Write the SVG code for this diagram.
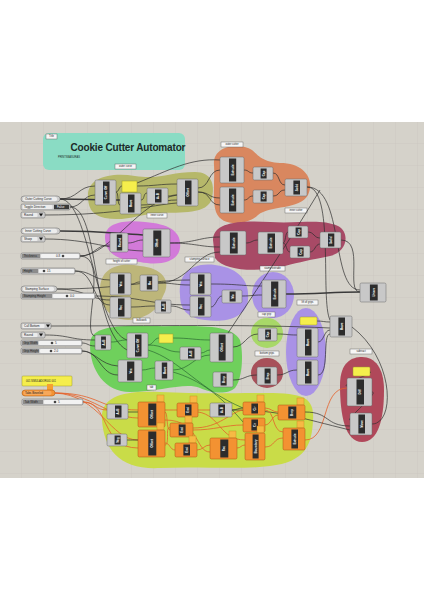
<svg xmlns="http://www.w3.org/2000/svg" width="424" height="600" viewBox="0 0 424 600">
<style>
text{font-family:"Liberation Sans",Arial,sans-serif}
.cp{fill:#c8c8c8;stroke:#6a6a6a;stroke-width:0.5}
.op{fill:#f39232;stroke:#a85510;stroke-width:0.5}
.co{fill:#2c2c2c}
.cl{font-size:3px;fill:#ffffff;font-weight:bold;text-anchor:middle;dominant-baseline:central}
.fl{fill:#f7b944;stroke:#c4871c;stroke-width:0.4}
.pn{fill:#f5ee4c;stroke:#9c9a2c;stroke-width:0.5}
.tag{fill:#f6f6f6;stroke:#555;stroke-width:0.4}
.tt{font-size:2.6px;fill:#222;text-anchor:middle;dominant-baseline:central}
.w{fill:none;stroke:#2e2e2e;stroke-width:0.7}
.wt{fill:none;stroke:#3a3a3a;stroke-width:1.6}
.wg{fill:none;stroke:#2d6a33;stroke-width:0.7}
.wo{fill:none;stroke:#e4612a;stroke-width:0.8}
.in{fill:#cdcdcd;stroke:#666;stroke-width:0.5}
.ib{fill:#ececec}
.it{font-size:3px;fill:#222;dominant-baseline:central}
.sl{fill:#f2f2f2}
.sb{fill:#8c8c8c}
</style>
<defs>
<pattern id="grid" x="0" y="122" width="22" height="22" patternUnits="userSpaceOnUse">
<rect width="22" height="22" fill="#d5d2ca"/>
<path d="M22,0 V22 M0,22 H22" fill="none" stroke="#c6c3ba" stroke-width="0.6"/>
</pattern>
</defs>
<rect width="424" height="600" fill="#ffffff"/>
<rect x="0" y="122" width="424" height="356" fill="url(#grid)"/>

<!-- groups -->
<g id="groups">
<path id="g-outer-curve" d="M88,195 C88,178 110,172 135,176 C160,180 170,172 195,172 C212,172 215,185 212,198 C208,215 180,212 160,213 C140,214 125,222 105,218 C90,215 88,205 88,195 Z" fill="#b6b86a"/>
<path id="g-outer-cutter" d="M214,165 C212,145 240,142 252,150 C258,155 262,162 280,163 C305,163 315,180 308,195 C300,210 270,205 258,215 C248,225 222,228 216,212 C212,200 215,180 214,165 Z" fill="#d9875f"/>
<path id="g-inner-curve" d="M105,238 C105,222 125,220 145,222 C170,224 182,232 180,248 C178,262 160,266 140,262 C125,260 106,258 105,238 Z" fill="#d27ad9"/>
<path id="g-inner-cutter" d="M213,240 C213,222 240,220 270,222 C300,224 320,218 338,226 C350,232 348,252 330,256 C310,260 300,262 285,266 C260,272 225,272 215,258 Z" fill="#a84a66"/>
<path id="g-height" d="M100,290 C100,268 118,262 140,266 C162,268 170,280 165,292 C160,302 158,312 140,318 C118,325 100,312 100,290 Z" fill="#bdb67a"/>
<path id="g-stamping" d="M180,295 C178,275 190,262 215,265 C240,268 250,282 248,300 C246,318 225,323 205,320 C188,318 180,310 180,295 Z" fill="#a992e6"/>
<ellipse id="g-stamp-extrude" cx="273" cy="295" rx="21" ry="23" fill="#a992e6"/>
<path id="g-bulkwork" d="M90,345 C90,328 110,325 150,326 C190,327 230,322 240,340 C244,355 242,380 235,388 C228,395 210,393 200,388 C185,382 160,392 130,392 C105,392 90,370 90,345 Z" fill="#6fd05c"/>
<ellipse id="g-cap-grip" cx="267" cy="333" rx="16" ry="15" fill="#a8d868"/>
<ellipse id="g-bottom" cx="267" cy="373" rx="16" ry="15" fill="#a8505a"/>
<ellipse id="g-lift" cx="306" cy="352" rx="20" ry="44" fill="#a992e6"/>
<path id="g-subtract" d="M340,385 C340,362 352,357 362,357 C375,357 384,368 384,390 C384,420 378,442 362,442 C345,442 340,415 340,385 Z" fill="#b0485a"/>
<path id="g-tab" d="M102,420 C100,398 120,390 160,392 C200,394 230,393 260,393 C300,393 315,395 313,420 C312,445 305,462 270,466 C240,470 200,466 160,468 C120,470 104,450 102,420 Z" fill="#c9dc48"/>
</g>

<!-- title -->
<g id="n-title">
<rect x="43" y="133" width="142" height="37" rx="6" fill="#8adcc4"/>
<text x="128" y="151" font-size="10" font-weight="bold" fill="#1c2a28" text-anchor="middle" textLength="115">Cookie Cutter Automator</text>
<text x="58" y="157.5" font-size="2.6" fill="#1c2a28">PRINTSBASURAS</text>
</g>

<!-- group labels -->
<g id="labels">
<rect class="tag" x="46" y="134" width="11" height="5"/><text class="tt" x="51.5" y="136.5">Title</text>
<rect class="tag" x="115" y="164" width="21" height="5"/><text class="tt" x="125.5" y="166.5">outer curve</text>
<rect class="tag" x="221" y="142" width="22" height="5"/><text class="tt" x="232" y="144.5">outer cutter</text>
<rect class="tag" x="147" y="213" width="20" height="5"/><text class="tt" x="157" y="215.5">inner curve</text>
<rect class="tag" x="285" y="208" width="22" height="5"/><text class="tt" x="296" y="210.5">inner cutter</text>
<rect class="tag" x="106" y="259" width="31" height="5"/><text class="tt" x="121.5" y="261.5">height of cutter</text>
<rect class="tag" x="185" y="257" width="29" height="5"/><text class="tt" x="199.5" y="259.5">stamping surface</text>
<rect class="tag" x="260" y="266" width="25" height="5"/><text class="tt" x="272.5" y="268.5">stamp extrude</text>
<rect class="tag" x="297" y="300" width="21" height="5"/><text class="tt" x="307.5" y="302.5">lift of grips</text>
<rect class="tag" x="258" y="312" width="17" height="5"/><text class="tt" x="266.5" y="314.5">cap grip</text>
<rect class="tag" x="133" y="318" width="17" height="5"/><text class="tt" x="141.5" y="320.5">bulkwork</text>
<rect class="tag" x="255" y="351" width="24" height="5"/><text class="tt" x="267" y="353.5">bottom grips</text>
<rect class="tag" x="350" y="349" width="22" height="5"/><text class="tt" x="361" y="351.5">subtract</text>
<rect class="tag" x="147" y="385" width="9" height="5"/><text class="tt" x="151.5" y="387.5">tab</text>
</g>

<!-- connectors -->
<g id="connectors">
<path class="wt" d="M60,199 C90,199 90,200 120,200"/>
<path class="w" d="M60,199 C78,199 78,186 95,186"/>
<path class="w" d="M70,207 C82,207 83,195 95,195"/>
<path class="w" d="M45,215 C120,215 150,205 177,203"/>
<path class="w" d="M60,199 C90,199 95,330 127,340"/>
<path class="w" d="M70,207 C100,207 90,330 127,350"/>
<path class="wt" d="M60,231 C100,231 110,233 143,235"/>
<path class="w" d="M45,239 C90,239 110,250 143,251"/>
<path class="w" d="M80,256 C95,256 95,245 110,245"/>
<path class="w" d="M80,256 C110,256 140,200 177,195"/>
<path class="w" d="M80,256 C110,256 80,335 95,336"/>
<path class="w" d="M75,271 C92,271 92,280 110,280"/>
<path class="w" d="M75,271 C95,271 92,305 110,305"/>
<path class="w" d="M57,289 C85,289 90,300 110,300"/>
<path class="w" d="M57,289 C120,289 150,280 190,280"/>
<path class="w" d="M95,296 C140,296 150,305 190,305"/>
<path class="w" d="M51,326 C150,326 250,324 330,328"/>
<path class="w" d="M45,335 C70,335 70,340 95,340"/>
<path class="w" d="M82,343 C88,343 88,346 95,346"/>
<path class="w" d="M82,351 C100,351 100,375 118,375"/>
<path class="w" d="M82,351 C95,351 100,365 118,366"/>
<path class="wo" d="M83,402 C95,402 95,410 107,410"/>
<path class="wo" d="M55,393 C100,393 100,410 138,410"/>
<path class="wo" d="M55,393 C100,395 110,440 138,440"/>
<path class="wo" d="M55,393 C90,393 110,418 138,418"/>
<path class="wo" d="M83,402 C110,402 100,448 138,448"/>
<path class="w" d="M116,192 C119,192 119,186 122,186"/>
<path class="w" d="M116,192 C119,192 117,205 120,205"/>
<path class="w" d="M137,186 C155,186 160,184 177,184"/>
<path class="w" d="M141,200 C145,200 143,193 147,193"/>
<path class="w" d="M168,196 C172,196 172,195 177,195"/>
<path class="w" d="M141,205 C160,205 160,200 177,200"/>
<path class="w" d="M137,183 C170,170 190,158 220,160"/>
<path class="w" d="M198,188 C210,188 208,170 220,170"/>
<path class="w" d="M198,192 C210,192 208,198 220,198"/>
<path class="w" d="M198,192 C212,192 208,205 220,205"/>
<path class="w" d="M244,170 C249,170 248,173 253,173"/>
<path class="w" d="M244,200 C249,200 248,196 253,196"/>
<path class="w" d="M273,173 C280,173 278,185 285,185"/>
<path class="w" d="M273,196 C280,196 278,190 285,190"/>
<path class="w" d="M307,187 C345,187 330,290 360,290"/>
<path class="w" d="M307,187 C335,187 320,300 330,320"/>
<path class="w" d="M128,243 C135,243 136,240 143,240"/>
<path class="w" d="M170,243 C195,243 200,237 220,237"/>
<path class="w" d="M170,243 C195,243 200,247 220,247"/>
<path class="w" d="M246,243 C252,243 252,240 258,240"/>
<path class="w" d="M283,243 C286,243 285,232 288,232"/>
<path class="w" d="M283,243 C287,243 286,252 290,252"/>
<path class="w" d="M308,232 C314,232 314,238 320,238"/>
<path class="w" d="M310,252 C315,252 315,244 320,244"/>
<path class="w" d="M341,240 C365,240 345,292 360,292"/>
<path class="w" d="M131,284 C136,284 135,282 140,282"/>
<path class="w" d="M131,307 C143,307 143,306 155,306"/>
<path class="w" d="M158,283 C175,283 175,285 190,285"/>
<path class="w" d="M158,283 C190,283 195,252 220,252"/>
<path class="w" d="M171,306 C180,306 180,310 190,310"/>
<path class="w" d="M211,284 C240,284 240,286 262,286"/>
<path class="w" d="M211,307 C216,307 217,296 222,296"/>
<path class="w" d="M242,296 C252,296 252,295 262,295"/>
<path class="wt" d="M286,294 C320,294 330,292 360,292"/>
<path class="w" d="M220,345 C250,300 290,240 320,190"/>
<path class="wg" d="M111,342 C119,342 119,340 127,340"/>
<path class="wg" d="M148,345 C153,345 154,338 159,338"/>
<path class="wg" d="M148,345 C165,345 165,352 180,352"/>
<path class="wg" d="M173,338 C190,338 195,340 210,340"/>
<path class="wg" d="M201,353 C205,353 206,350 210,350"/>
<path class="wg" d="M142,370 C148,370 149,368 155,368"/>
<path class="wg" d="M173,370 C190,370 195,355 210,355"/>
<path class="wg" d="M148,350 C180,360 200,390 243,408"/>
<path class="wg" d="M173,372 C200,380 220,395 243,422"/>
<path class="w" d="M233,347 C245,347 246,334 258,334"/>
<path class="w" d="M233,380 C245,380 245,375 257,375"/>
<path class="w" d="M277,334 C287,334 287,335 297,335"/>
<path class="w" d="M277,375 C287,375 287,370 297,370"/>
<path class="w" d="M317,321 C323,321 324,322 330,322"/>
<path class="w" d="M318,342 C324,342 324,330 330,330"/>
<path class="w" d="M318,375 C330,375 322,334 330,334"/>
<path class="w" d="M372,424 C395,424 395,360 352,327"/>
<path class="w" d="M370,372 C376,372 340,385 347,386"/>
<path class="w" d="M372,392 C380,392 345,420 350,420"/>
<path class="wo" d="M305,440 C330,440 320,388 347,388"/>
<path class="w" d="M305,412 C330,412 325,426 350,426"/>
<path class="w" d="M232,410 C280,410 300,418 350,430"/>
<path class="w" d="M128,412 C133,412 133,412 138,412"/>
<path class="w" d="M127,440 C132,440 133,440 138,440"/>
<path class="wo" d="M165,410 C171,410 171,410 177,410"/>
<path class="wo" d="M165,412 C168,412 166,430 170,430"/>
<path class="wo" d="M165,443 C170,443 170,450 175,450"/>
<path class="wo" d="M165,445 C170,445 165,425 170,428"/>
<path class="wo" d="M198,410 C204,410 204,410 210,410"/>
<path class="w" d="M232,410 C237,410 238,408 243,408"/>
<path class="wo" d="M265,408 C271,408 272,412 278,412"/>
<path class="wo" d="M265,425 C271,425 272,415 278,415"/>
<path class="wo" d="M237,448 C241,448 241,445 245,445"/>
<path class="wo" d="M265,447 C275,447 273,438 283,438"/>
<path class="wo" d="M197,450 C203,450 204,445 210,445"/>
<path class="wo" d="M193,430 C215,430 225,425 243,425"/>
<path class="wo" d="M193,428 C220,428 230,412 243,410"/>
<path class="wo" d="M198,412 C220,415 220,440 245,440"/>
<path class="wo" d="M165,420 C200,420 195,452 210,452"/>
<path class="wo" d="M265,410 C275,410 272,432 283,432"/>
</g>

<!-- left inputs -->
<g id="n-outer-curve-in"><rect class="in" x="21" y="196" width="39" height="6" rx="3"/><rect class="ib" x="23" y="196.8" width="34" height="4.4" rx="2"/><text class="it" x="25" y="199">Outer Cutting Curve</text></g>
<g id="n-toggle"><rect class="in" x="21" y="204" width="49" height="6" rx="1.5"/><rect class="ib" x="22.5" y="205" width="30" height="4" rx="1"/><text class="it" x="24" y="207">Toggle Direction</text><rect x="54" y="204.8" width="15" height="4.4" fill="#3a3a3a"/><text class="it" x="57" y="207" fill="#fff" style="fill:#fff">False</text></g>
<g id="n-round1"><rect class="in" x="21" y="212" width="24" height="6" rx="1.5"/><rect class="ib" x="22.5" y="213" width="15" height="4" rx="1"/><text class="it" x="24" y="215">Round</text><polygon points="39,213.5 43,213.5 41,216.5" fill="#111"/></g>
<g id="n-inner-curve-in"><rect class="in" x="21" y="228" width="39" height="6" rx="3"/><rect class="ib" x="23" y="228.8" width="34" height="4.4" rx="2"/><text class="it" x="25" y="231">Inner Cutting Curve</text></g>
<g id="n-sharp"><rect class="in" x="21" y="236" width="24" height="6" rx="1.5"/><rect class="ib" x="22.5" y="237" width="15" height="4" rx="1"/><text class="it" x="24" y="239">Sharp</text><polygon points="39,237.5 43,237.5 41,240.5" fill="#111"/></g>
<g id="n-thickness"><rect class="in" x="21" y="253" width="59" height="6" rx="1.5"/><rect class="sb" x="22" y="254" width="18" height="4"/><text class="it" x="23.5" y="256">Thickness</text><rect class="sl" x="41" y="254" width="38" height="4" rx="1"/><circle cx="63" cy="256" r="1.3" fill="#444"/><text class="it" x="56" y="256">0.8</text></g>
<g id="n-height"><rect class="in" x="21" y="268" width="54" height="6" rx="1.5"/><rect class="sb" x="22" y="269" width="16" height="4"/><text class="it" x="23.5" y="271">Height</text><rect class="sl" x="39" y="269" width="35" height="4" rx="1"/><circle cx="44" cy="271" r="1.3" fill="#444"/><text class="it" x="47" y="271">15</text></g>
<g id="n-stamp-surf"><rect class="in" x="21" y="286" width="36" height="6" rx="3"/><rect class="ib" x="23" y="286.8" width="31" height="4.4" rx="2"/><text class="it" x="25" y="289">Stamping Surface</text></g>
<g id="n-stamp-height"><rect class="in" x="21" y="293" width="74" height="6" rx="1.5"/><rect class="sb" x="22" y="294" width="30" height="4"/><text class="it" x="23.5" y="296">Stamping Height</text><rect class="sl" x="53" y="294" width="41" height="4" rx="1"/><circle cx="67" cy="296" r="1.3" fill="#444"/><text class="it" x="70" y="296">0.0</text></g>
<g id="n-cull"><rect class="in" x="21" y="323" width="30" height="6" rx="1.5"/><rect class="ib" x="22.5" y="324" width="22" height="4" rx="1"/><text class="it" x="24" y="326">Cull Bottom</text><polygon points="46,324.5 50,324.5 48,327.5" fill="#111"/></g>
<g id="n-round2"><rect class="in" x="21" y="332" width="24" height="6" rx="1.5"/><rect class="ib" x="22.5" y="333" width="15" height="4" rx="1"/><text class="it" x="24" y="335">Round</text><polygon points="39,333.5 43,333.5 41,336.5" fill="#111"/></g>
<g id="n-grip-width"><rect class="in" x="21" y="340" width="61" height="6" rx="1.5"/><rect class="sb" x="22" y="341" width="16" height="4"/><text class="it" x="23.5" y="343">Grip Width</text><rect class="sl" x="39" y="341" width="42" height="4" rx="1"/><circle cx="52" cy="343" r="1.3" fill="#444"/><text class="it" x="55" y="343">5</text></g>
<g id="n-grip-height"><rect class="in" x="21" y="348" width="61" height="6" rx="1.5"/><rect class="sb" x="22" y="349" width="17" height="4"/><text class="it" x="23.5" y="351">Grip Height</text><rect class="sl" x="40" y="349" width="41" height="4" rx="1"/><circle cx="51" cy="351" r="1.3" fill="#444"/><text class="it" x="54" y="351">2.0</text></g>
<g id="n-panel-left"><rect class="pn" x="22" y="376" width="50" height="10" rx="1"/><text class="it" x="26" y="381" style="font-size:2.6px">001   SIMULADOR001   001</text><rect x="47" y="384" width="6" height="6" fill="#f5a030"/></g>
<g id="n-tabs-beveled"><rect class="op" x="22" y="390" width="33" height="6" rx="3"/><rect x="23.5" y="390.8" width="28" height="4.4" rx="2" fill="#f7a85a"/><text class="it" x="25" y="393">Tabs Beveled</text></g>
<g id="n-tab-width"><rect class="in" x="22" y="399" width="61" height="6" rx="1.5"/><rect class="sb" x="23" y="400" width="20" height="4"/><text class="it" x="24.5" y="402">Tab Width</text><rect class="sl" x="44" y="400" width="38" height="4" rx="1"/><circle cx="55" cy="402" r="1.3" fill="#444"/><text class="it" x="58" y="402">5</text></g>

<!-- panels -->
<g id="n-panel-1"><rect class="pn" x="122" y="181" width="15" height="11"/></g>
<g id="n-panel-2"><rect class="pn" x="300" y="317" width="17" height="8" rx="1"/></g>
<g id="n-panel-3"><rect class="pn" x="353" y="367" width="17" height="9" rx="1"/></g>
<g id="n-panel-4"><rect class="pn" x="159" y="334" width="14" height="9"/></g>

<!-- components -->
<g id="n-c1"><rect class="cp" x="95" y="180" width="21" height="25" rx="1.5"/><rect class="co" x="103" y="181.5" width="6.5" height="22"/><text class="cl" transform="translate(106.2,192.5) rotate(-90)">Curve Off</text></g>
<g id="n-c2"><rect class="cp" x="120" y="193" width="21" height="21" rx="1.5"/><rect class="co" x="128" y="194.5" width="6.5" height="18"/><text class="cl" transform="translate(131.2,203.5) rotate(-90)">Move</text></g>
<g id="n-c3"><rect class="cp" x="147" y="188" width="21" height="16" rx="1.5"/><rect class="co" x="155" y="189.5" width="6.5" height="13"/><text class="cl" transform="translate(158.2,196) rotate(-90)">A+B</text></g>
<g id="n-c4"><rect class="cp" x="177" y="179" width="21" height="27" rx="1.5"/><rect class="co" x="185" y="180.5" width="6.5" height="24"/><text class="cl" transform="translate(188.2,192.5) rotate(-90)">Offset</text></g>
<g id="n-c5"><rect class="cp" x="220" y="157" width="24" height="26" rx="1.5"/><rect class="co" x="229" y="158.5" width="7.2" height="23"/><text class="cl" transform="translate(232.6,170) rotate(-90)">Extrude</text></g>
<g id="n-c6"><rect class="cp" x="220" y="187" width="24" height="26" rx="1.5"/><rect class="co" x="229" y="188.5" width="7.2" height="23"/><text class="cl" transform="translate(232.6,200) rotate(-90)">Extrude</text></g>
<g id="n-c7"><rect class="cp" x="253" y="167" width="20" height="13" rx="1.5"/><rect class="co" x="260.6" y="168.5" width="6" height="10"/><text class="cl" transform="translate(263.6,173.5) rotate(-90)">Cap</text></g>
<g id="n-c8"><rect class="cp" x="253" y="190" width="20" height="13" rx="1.5"/><rect class="co" x="260.6" y="191.5" width="6" height="10"/><text class="cl" transform="translate(263.6,196.5) rotate(-90)">Cap</text></g>
<g id="n-c9"><rect class="cp" x="285" y="179" width="22" height="17" rx="1.5"/><rect class="co" x="293.4" y="180.5" width="6.6" height="14"/><text class="cl" transform="translate(296.7,187.5) rotate(-90)">Solid</text></g>
<g id="n-c10"><rect class="cp" x="110" y="233" width="18" height="19" rx="1.5"/><rect class="co" x="116.8" y="234.5" width="5.4" height="16"/><text class="cl" transform="translate(119.5,242.5) rotate(-90)">Round</text></g>
<g id="n-c11"><rect class="cp" x="143" y="229" width="27" height="28" rx="1.5"/><rect class="co" x="153.3" y="230.5" width="8" height="25"/><text class="cl" transform="translate(157.3,243) rotate(-90)">Offset</text></g>
<g id="n-c12"><rect class="cp" x="220" y="231" width="26" height="24" rx="1.5"/><rect class="co" x="229.9" y="232.5" width="7.8" height="21"/><text class="cl" transform="translate(233.8,243) rotate(-90)">Extrude</text></g>
<g id="n-c13"><rect class="cp" x="258" y="232" width="25" height="22" rx="1.5"/><rect class="co" x="267.5" y="233.5" width="7.5" height="19"/><text class="cl" transform="translate(271.3,243) rotate(-90)">Extrude</text></g>
<g id="n-c14"><rect class="cp" x="288" y="226" width="20" height="12" rx="1.5"/><rect class="co" x="295.6" y="227.5" width="6" height="9"/><text class="cl" transform="translate(298.6,232) rotate(-90)">Cap</text></g>
<g id="n-c15"><rect class="cp" x="290" y="246" width="20" height="12" rx="1.5"/><rect class="co" x="297.6" y="247.5" width="6" height="9"/><text class="cl" transform="translate(300.6,252) rotate(-90)">Cap</text></g>
<g id="n-c16"><rect class="cp" x="320" y="232" width="21" height="16" rx="1.5"/><rect class="co" x="328" y="233.5" width="6.3" height="13"/><text class="cl" transform="translate(331.1,240) rotate(-90)">Solid</text></g>
<g id="n-c17"><rect class="cp" x="110" y="273" width="21" height="22" rx="1.5"/><rect class="co" x="118" y="274.5" width="6.5" height="19"/><text class="cl" transform="translate(121.2,284) rotate(-90)">Vec</text></g>
<g id="n-c18"><rect class="cp" x="110" y="297" width="21" height="21" rx="1.5"/><rect class="co" x="118" y="298.5" width="6.5" height="18"/><text class="cl" transform="translate(121.2,307.5) rotate(-90)">Vec</text></g>
<g id="n-c19"><rect class="cp" x="140" y="275" width="18" height="16" rx="1.5"/><rect class="co" x="146.8" y="276.5" width="5.4" height="13"/><text class="cl" transform="translate(149.5,283) rotate(-90)">Mo</text></g>
<g id="n-c20"><rect class="cp" x="155" y="300" width="16" height="13" rx="1.5"/><rect class="co" x="161.1" y="301.5" width="4.8" height="10"/><text class="cl" transform="translate(163.5,306.5) rotate(-90)">A+B</text></g>
<g id="n-c21"><rect class="cp" x="190" y="273" width="21" height="22" rx="1.5"/><rect class="co" x="198" y="274.5" width="6.5" height="19"/><text class="cl" transform="translate(201.2,284) rotate(-90)">Vec</text></g>
<g id="n-c22"><rect class="cp" x="190" y="296" width="21" height="21" rx="1.5"/><rect class="co" x="198" y="297.5" width="6.5" height="18"/><text class="cl" transform="translate(201.2,306.5) rotate(-90)">Vec</text></g>
<g id="n-c23"><rect class="cp" x="222" y="290" width="20" height="13" rx="1.5"/><rect class="co" x="229.6" y="291.5" width="6" height="10"/><text class="cl" transform="translate(232.6,296.5) rotate(-90)">Mo</text></g>
<g id="n-c24"><rect class="cp" x="262" y="280" width="24" height="28" rx="1.5"/><rect class="co" x="271.1" y="281.5" width="7.2" height="25"/><text class="cl" transform="translate(274.7,294) rotate(-90)">Extrude</text></g>
<g id="n-c25"><rect class="cp" x="360" y="283" width="26" height="19" rx="1.5"/><rect class="co" x="369.9" y="284.5" width="7.8" height="16"/><text class="cl" transform="translate(373.8,292.5) rotate(-90)">Union</text></g>
<g id="n-c26"><rect class="cp" x="258" y="328" width="19" height="13" rx="1.5"/><rect class="co" x="265.2" y="329.5" width="5.7" height="10"/><text class="cl" transform="translate(268,334.5) rotate(-90)">Cap</text></g>
<g id="n-c27"><rect class="cp" x="257" y="367" width="20" height="18" rx="1.5"/><rect class="co" x="264.6" y="368.5" width="6" height="15"/><text class="cl" transform="translate(267.6,376) rotate(-90)">Brep</text></g>
<g id="n-c28"><rect class="cp" x="297" y="328" width="21" height="29" rx="1.5"/><rect class="co" x="305" y="329.5" width="6.5" height="26"/><text class="cl" transform="translate(308.2,342.5) rotate(-90)">Move</text></g>
<g id="n-c29"><rect class="cp" x="297" y="360" width="21" height="25" rx="1.5"/><rect class="co" x="305" y="361.5" width="6.5" height="22"/><text class="cl" transform="translate(308.2,372.5) rotate(-90)">Move</text></g>
<g id="n-c30"><rect class="cp" x="330" y="316" width="22" height="21" rx="1.5"/><rect class="co" x="338.4" y="317.5" width="6.6" height="18"/><text class="cl" transform="translate(341.7,326.5) rotate(-90)">Move</text></g>
<g id="n-c31"><rect class="cp" x="347" y="378" width="25" height="28" rx="1.5"/><rect class="co" x="356.5" y="379.5" width="7.5" height="25"/><text class="cl" transform="translate(360.3,392) rotate(-90)">Diff</text></g>
<g id="n-c32"><rect class="cp" x="350" y="413" width="22" height="22" rx="1.5"/><rect class="co" x="358.4" y="414.5" width="6.6" height="19"/><text class="cl" transform="translate(361.7,424) rotate(-90)">Move</text></g>
<g id="n-c33"><rect class="cp" x="95" y="335" width="16" height="15" rx="1.5"/><rect class="co" x="101.1" y="336.5" width="4.8" height="12"/><text class="cl" transform="translate(103.5,342.5) rotate(-90)">A+B</text></g>
<g id="n-c34"><rect class="cp" x="127" y="333" width="21" height="25" rx="1.5"/><rect class="co" x="135" y="334.5" width="6.5" height="22"/><text class="cl" transform="translate(138.2,345.5) rotate(-90)">Curve Off</text></g>
<g id="n-c35"><rect class="cp" x="180" y="347" width="21" height="13" rx="1.5"/><rect class="co" x="188" y="348.5" width="6.5" height="10"/><text class="cl" transform="translate(191.2,353.5) rotate(-90)">A+B</text></g>
<g id="n-c36"><rect class="cp" x="118" y="360" width="24" height="22" rx="1.5"/><rect class="co" x="127.1" y="361.5" width="7.2" height="19"/><text class="cl" transform="translate(130.7,371) rotate(-90)">Vec</text></g>
<g id="n-c37"><rect class="cp" x="155" y="361" width="18" height="19" rx="1.5"/><rect class="co" x="161.8" y="362.5" width="5.4" height="16"/><text class="cl" transform="translate(164.5,370.5) rotate(-90)">Move</text></g>
<g id="n-c38"><rect class="cp" x="210" y="333" width="23" height="29" rx="1.5"/><rect class="co" x="218.7" y="334.5" width="6.9" height="26"/><text class="cl" transform="translate(222.2,347.5) rotate(-90)">Offset</text></g>
<g id="n-c39"><rect class="cp" x="213" y="372" width="20" height="15" rx="1.5"/><rect class="co" x="220.6" y="373.5" width="6" height="12"/><text class="cl" transform="translate(223.6,379.5) rotate(-90)">Brep</text></g>

<g id="n-c40"><rect class="cp" x="107" y="404" width="21" height="15" rx="1.5"/><rect class="co" x="115" y="405.5" width="6.5" height="12"/><text class="cl" transform="translate(118.2,411.5) rotate(-90)">A+B</text></g>
<g id="n-c41"><rect class="cp" x="107" y="434" width="20" height="12" rx="1.5"/><rect class="co" x="114.6" y="435.5" width="6" height="9"/><text class="cl" transform="translate(117.6,440) rotate(-90)">Neg</text></g>
<g id="n-c42"><rect class="fl" x="157" y="395" width="7" height="7"/><rect class="op" x="138" y="402" width="27" height="25" rx="1.5"/><rect class="co" x="148.3" y="403.5" width="8" height="22"/><text class="cl" transform="translate(152.3,414.5) rotate(-90)">Offset</text></g>
<g id="n-c43"><rect class="fl" x="157" y="423" width="7" height="7"/><rect class="op" x="138" y="430" width="27" height="27" rx="1.5"/><rect class="co" x="148.3" y="431.5" width="8" height="24"/><text class="cl" transform="translate(152.3,443.5) rotate(-90)">Offset</text></g>
<g id="n-c44"><rect class="fl" x="190" y="396" width="7" height="7"/><rect class="op" x="177" y="403" width="21" height="14" rx="1.5"/><rect class="co" x="185" y="404.5" width="6.5" height="11"/><text class="cl" transform="translate(188.2,410) rotate(-90)">End</text></g>
<g id="n-c45"><rect class="fl" x="185" y="416" width="7" height="7"/><rect class="op" x="170" y="423" width="23" height="14" rx="1.5"/><rect class="co" x="178.7" y="424.5" width="6.9" height="11"/><text class="cl" transform="translate(182.2,430) rotate(-90)">End</text></g>
<g id="n-c46"><rect class="fl" x="189" y="436" width="7" height="7"/><rect class="op" x="175" y="443" width="22" height="14" rx="1.5"/><rect class="co" x="183.4" y="444.5" width="6.6" height="11"/><text class="cl" transform="translate(186.7,450) rotate(-90)">End</text></g>
<g id="n-c47"><rect class="cp" x="210" y="403" width="22" height="14" rx="1.5"/><rect class="co" x="218.4" y="404.5" width="6.6" height="11"/><text class="cl" transform="translate(221.7,410) rotate(-90)">A+B</text></g>
<g id="n-c48"><rect class="fl" x="257" y="395" width="7" height="7"/><rect class="op" x="243" y="402" width="22" height="13" rx="1.5"/><rect class="co" x="251.4" y="403.5" width="6.6" height="10"/><text class="cl" transform="translate(254.7,408.5) rotate(-90)">Cir</text></g>
<g id="n-c49"><rect class="op" x="243" y="418" width="22" height="14" rx="1.5"/><rect class="co" x="251.4" y="419.5" width="6.6" height="11"/><text class="cl" transform="translate(254.7,425) rotate(-90)">Cir</text></g>
<g id="n-c50"><rect class="fl" x="297" y="398" width="7" height="7"/><rect class="op" x="278" y="405" width="27" height="15" rx="1.5"/><rect class="co" x="288.3" y="406.5" width="8" height="12"/><text class="cl" transform="translate(292.3,412.5) rotate(-90)">Brep</text></g>
<g id="n-c51"><rect class="fl" x="229" y="431" width="7" height="7"/><rect class="op" x="210" y="438" width="27" height="21" rx="1.5"/><rect class="co" x="220.3" y="439.5" width="8" height="18"/><text class="cl" transform="translate(224.3,448.5) rotate(-90)">Rec</text></g>
<g id="n-c52"><rect class="fl" x="257" y="426" width="7" height="7"/><rect class="op" x="245" y="433" width="20" height="27" rx="1.5"/><rect class="co" x="252.6" y="434.5" width="6" height="24"/><text class="cl" transform="translate(255.6,446.5) rotate(-90)">Boundary</text></g>
<g id="n-c53"><rect class="fl" x="297" y="421" width="7" height="7"/><rect class="op" x="283" y="428" width="22" height="22" rx="1.5"/><rect class="co" x="291.4" y="429.5" width="6.6" height="19"/><text class="cl" transform="translate(294.7,439) rotate(-90)">Extrude</text></g>
</svg>
